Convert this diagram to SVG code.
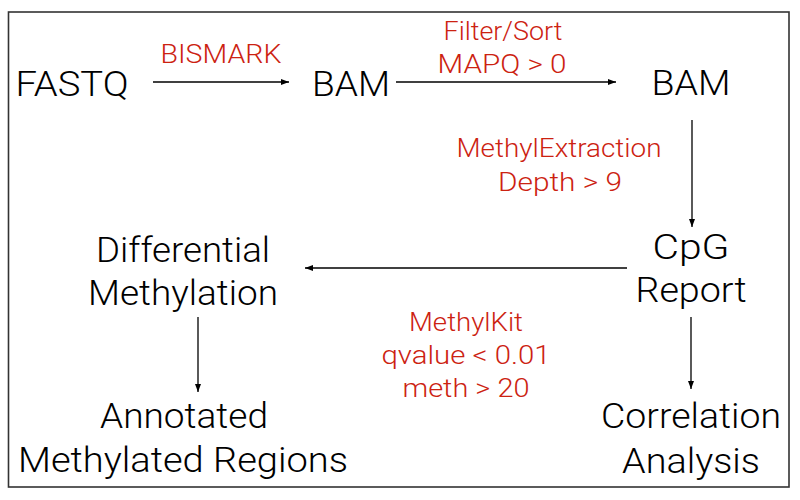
<svg xmlns="http://www.w3.org/2000/svg" width="800" height="500" viewBox="0 0 800 500">
<defs>
<marker id="ah" viewBox="0 0 8 6" refX="8" refY="3" markerWidth="8" markerHeight="6" markerUnits="userSpaceOnUse" orient="auto">
<path d="M0,0 L8,3 L0,6 z" fill="#000"/>
</marker>
<style>
.n{font-family:Roboto,"Liberation Sans",Arial,sans-serif;font-weight:300;font-size:35px;fill:#000;text-anchor:middle}
.l{font-family:Roboto,"Liberation Sans",Arial,sans-serif;font-weight:300;font-size:25px;fill:#cc2211;text-anchor:middle}
.c{stroke:#000;stroke-width:1.3;fill:none;marker-end:url(#ah)}
</style>
</defs>
<rect width="800" height="500" fill="#fff"/>
<rect x="8.5" y="12" width="780.5" height="475" fill="none" stroke="#333" stroke-width="1.6"/>
<g id="connectors">
<line class="c" x1="153" y1="82" x2="289" y2="82"/>
<line class="c" x1="396" y1="82" x2="616" y2="82"/>
<line class="c" x1="692" y1="120" x2="692" y2="227"/>
<line class="c" x1="627" y1="268" x2="305" y2="268"/>
<line class="c" x1="198" y1="317" x2="198" y2="392"/>
<line class="c" x1="691" y1="317" x2="691" y2="389"/>
</g>
<g id="labels">
<text class="l" x="221" y="63" textLength="121" lengthAdjust="spacingAndGlyphs">BISMARK</text>
<text class="l" x="503" y="40" textLength="119" lengthAdjust="spacingAndGlyphs">Filter/Sort</text>
<text class="l" x="502" y="73" textLength="129" lengthAdjust="spacingAndGlyphs">MAPQ &gt; 0</text>
<text class="l" x="559" y="157" textLength="205" lengthAdjust="spacingAndGlyphs">MethylExtraction</text>
<text class="l" x="560" y="191" textLength="124" lengthAdjust="spacingAndGlyphs">Depth &gt; 9</text>
<text class="l" x="466" y="331" textLength="114" lengthAdjust="spacingAndGlyphs">MethylKit</text>
<text class="l" x="466" y="364" textLength="169" lengthAdjust="spacingAndGlyphs">qvalue &lt; 0.01</text>
<text class="l" x="466" y="397" textLength="127" lengthAdjust="spacingAndGlyphs">meth &gt; 20</text>
</g>
<g id="fastq"><text class="n" x="72" y="96" textLength="113" lengthAdjust="spacingAndGlyphs">FASTQ</text></g>
<g id="bam1"><text class="n" x="351" y="96" textLength="78" lengthAdjust="spacingAndGlyphs">BAM</text></g>
<g id="bam2"><text class="n" x="691" y="95" textLength="79" lengthAdjust="spacingAndGlyphs">BAM</text></g>
<g id="cpg">
<text class="n" x="691" y="259" textLength="77" lengthAdjust="spacingAndGlyphs">CpG</text>
<text class="n" x="691" y="302" textLength="111" lengthAdjust="spacingAndGlyphs">Report</text>
</g>
<g id="diff">
<text class="n" x="183" y="262" textLength="174" lengthAdjust="spacingAndGlyphs">Differential</text>
<text class="n" x="183" y="305" textLength="190" lengthAdjust="spacingAndGlyphs">Methylation</text>
</g>
<g id="annot">
<text class="n" x="184" y="428" textLength="168" lengthAdjust="spacingAndGlyphs">Annotated</text>
<text class="n" x="183" y="472" textLength="330" lengthAdjust="spacingAndGlyphs">Methylated Regions</text>
</g>
<g id="corr">
<text class="n" x="691" y="428" textLength="180" lengthAdjust="spacingAndGlyphs">Correlation</text>
<text class="n" x="691" y="473" textLength="138" lengthAdjust="spacingAndGlyphs">Analysis</text>
</g>
</svg>
